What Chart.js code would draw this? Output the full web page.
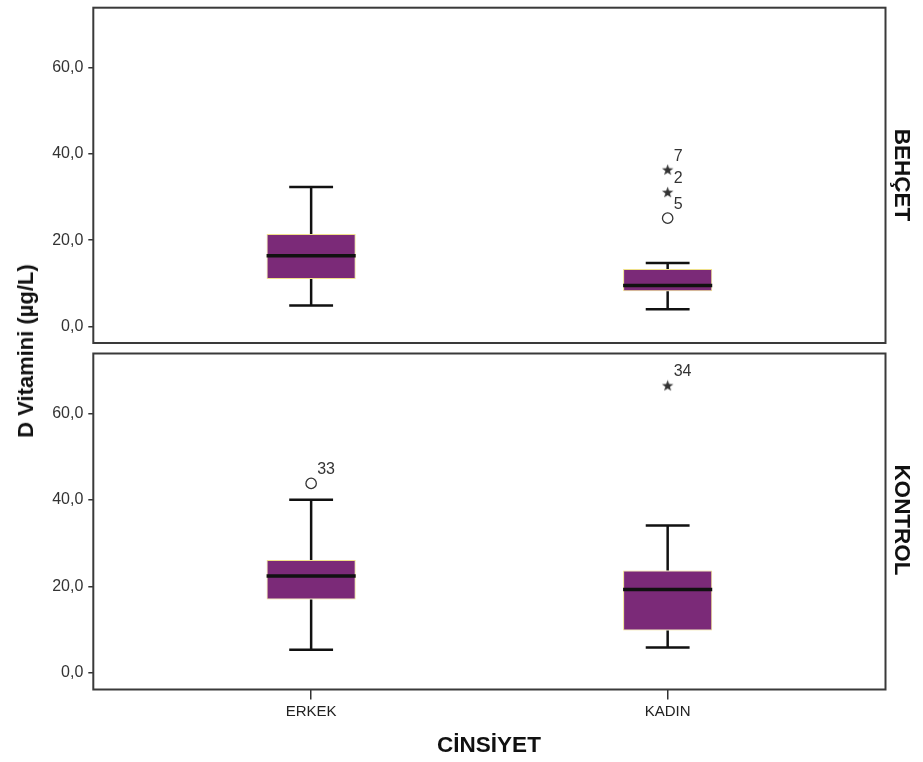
<!DOCTYPE html>
<html><head><meta charset="utf-8">
<script src="https://cdn.jsdelivr.net/npm/chart.js@4"></script>
<style>
html,body{margin:0;padding:0;background:#fff;}
#wrap{position:relative;width:923px;height:762px;overflow:hidden;font-family:"Liberation Sans",Arial,sans-serif;}
canvas{position:absolute;left:0;}
#c1{top:0}
#c2{top:346px}
.t{position:absolute;font-weight:bold;color:#111;white-space:nowrap;line-height:1;}
#ytitle{left:26px;top:350.5px;font-size:22px;transform:translate(-50%,-50%) rotate(-90deg);}
#xtitle{left:489px;top:745px;font-size:22.5px;transform:translate(-50%,-50%);}
.panel{writing-mode:vertical-rl;font-size:22.5px;transform:translate(-50%,-50%);}
#p1{left:902px;top:175px}
#p2{left:902px;top:520px}
</style></head>
<body><div id="wrap">
<canvas id="c1" width="923" height="352"></canvas>
<canvas id="c2" width="923" height="416"></canvas>
<div class="t" id="ytitle">D Vitamini (µg/L)</div>
<div class="t" id="xtitle">CİNSİYET</div>
<div class="t panel" id="p1">BEHÇET</div>
<div class="t panel" id="p2">KONTROL</div>
</div>
<script>
// ---- data ----
const categories = ['ERKEK', 'KADIN'];
const yTickValues = [0, 20, 40, 60];

// BEHÇET panel
const behcetLow = [4.9, 4.0];
const behcetQ1 = [11.0, 8.2];
const behcetMedian = [16.4, 9.5];
const behcetQ3 = [21.4, 13.3];
const behcetHigh = [32.3, 14.7];
const behcetOutlierCategory = [1, 1, 1];
const behcetOutlierValue = [36.2, 31.0, 25.1];
const behcetOutlierKind = ['extreme', 'extreme', 'outlier'];
const behcetOutlierCase = ['7', '2', '5'];

// KONTROL panel
const kontrolLow = [5.4, 5.9];
const kontrolQ1 = [17.0, 9.8];
const kontrolMedian = [22.4, 19.3];
const kontrolQ3 = [26.1, 23.7];
const kontrolHigh = [40.0, 34.1];
const kontrolOutlierCategory = [0, 1];
const kontrolOutlierValue = [43.8, 66.3];
const kontrolOutlierKind = ['outlier', 'extreme'];
const kontrolOutlierCase = ['33', '34'];

// ---- styles ----
const BOX_WIDTH = 0.25;
const CAP_HALF = 0.0615;
const PURPLE = '#7b2a78';
const BOX_EDGE = '#efe08a';
const INK = '#111111';
const AXIS = '#333333';
const FONT = '"Liberation Sans", Arial, sans-serif';

function makeStar() {
  const c = document.createElement('canvas');
  c.width = 13; c.height = 13;
  const g = c.getContext('2d');
  g.fillStyle = '#333';
  g.beginPath();
  for (let k = 0; k < 10; k++) {
    const r = k % 2 ? 2.4 : 6;
    const a = -Math.PI / 2 + k * Math.PI / 5;
    g.lineTo(6.5 + r * Math.cos(a), 6.5 + r * Math.sin(a));
  }
  g.closePath();
  g.fill();
  return c;
}
const starImg = makeStar();

function whiskerPoints(low, q1, q3, high) {
  const pts = [];
  categories.forEach((c, i) => {
    pts.push({x: i, y: high[i]}, {x: i, y: q3[i]}, {x: i, y: null},
             {x: i, y: q1[i]}, {x: i, y: low[i]}, {x: i, y: null},
             {x: i - CAP_HALF, y: high[i]}, {x: i + CAP_HALF, y: high[i]}, {x: i, y: null},
             {x: i - CAP_HALF, y: low[i]}, {x: i + CAP_HALF, y: low[i]}, {x: i, y: null});
  });
  return pts;
}
function medianPoints(med) {
  const pts = [];
  categories.forEach((c, i) => {
    pts.push({x: i - BOX_WIDTH / 2, y: med[i]}, {x: i + BOX_WIDTH / 2, y: med[i]}, {x: i, y: null});
  });
  return pts;
}

const framePlugin = {
  id: 'frame',
  afterDatasetsDraw(chart) {
    const {ctx, chartArea: a} = chart;
    ctx.save();
    ctx.strokeStyle = '#3a3a3a';
    ctx.lineWidth = 2;
    ctx.strokeRect(a.left, a.top, a.right - a.left, a.bottom - a.top);
    ctx.restore();
  }
};

function makePanel(id, s, showX, padTop, padBottom, xHeight) {
  const labelPlugin = {
    id: 'caseLabels',
    afterDatasetsDraw(chart) {
      const meta = chart.getDatasetMeta(3);
      const ctx = chart.ctx;
      ctx.save();
      ctx.fillStyle = '#333';
      ctx.font = '16px ' + FONT;
      ctx.textAlign = 'left';
      ctx.textBaseline = 'middle';
      meta.data.forEach((el, k) => {
        ctx.fillText(s.caseIds[k], el.x + 6, el.y - 14);
      });
      ctx.restore();
    }
  };
  return new Chart(document.getElementById(id), {
    type: 'bar',
    data: {
      datasets: [
        {
          type: 'bar',
          data: categories.map((c, i) => ({x: i, y: [s.q1[i], s.q3[i]]})),
          backgroundColor: PURPLE,
          borderColor: BOX_EDGE,
          borderWidth: 1,
          borderSkipped: false,
          barPercentage: BOX_WIDTH,
          categoryPercentage: 1,
          order: 3
        },
        {
          type: 'line',
          data: whiskerPoints(s.low, s.q1, s.q3, s.high),
          borderColor: INK,
          borderWidth: 2.5,
          pointRadius: 0,
          spanGaps: false,
          fill: false,
          order: 2
        },
        {
          type: 'line',
          data: medianPoints(s.med),
          borderColor: INK,
          borderWidth: 3.5,
          pointRadius: 0,
          spanGaps: false,
          fill: false,
          order: 1
        },
        {
          type: 'scatter',
          data: s.outCat.map((c, k) => ({x: c, y: s.outVal[k]})),
          pointStyle: ctx => s.outKind[ctx.dataIndex] === 'extreme' ? starImg : 'circle',
          pointRadius: 5.2,
          borderColor: '#333',
          borderWidth: 1.3,
          backgroundColor: 'rgba(255,255,255,0)',
          order: 0
        }
      ]
    },
    options: {
      responsive: false,
      animation: false,
      layout: {padding: {left: 0, right: 923 - 885.5, top: padTop, bottom: padBottom}},
      plugins: {legend: {display: false}, tooltip: {enabled: false}},
      scales: {
        x: {
          type: 'linear',
          display: showX,
          min: -0.611,
          max: 1.611,
          offset: false,
          grid: {offset: false, drawOnChartArea: false, drawTicks: true, tickLength: 10, color: AXIS, lineWidth: 1.5},
          border: {display: false},
          afterBuildTicks: sc => { sc.ticks = categories.map((c, i) => ({value: i})); },
          afterFit: sc => { if (showX) { sc.height = xHeight; } sc.paddingLeft = 0; sc.paddingRight = 0; },
          ticks: {
            callback: v => categories[v],
            font: {family: FONT, size: 15},
            color: '#222',
            padding: 3,
            maxRotation: 0
          }
        },
        y: {
          type: 'linear',
          min: -3.8,
          max: 73.8,
          grid: {drawOnChartArea: false, drawTicks: true, tickLength: 5, color: AXIS, lineWidth: 1.5},
          border: {display: false},
          afterBuildTicks: sc => { sc.ticks = yTickValues.map(v => ({value: v})); },
          afterFit: sc => { sc.width = 93.3; sc.paddingTop = 0; sc.paddingBottom = 0; },
          ticks: {
            callback: v => v.toFixed(1).replace('.', ','),
            font: {family: FONT, size: 16},
            color: '#333',
            padding: 5
          }
        }
      }
    },
    plugins: [framePlugin, labelPlugin]
  });
}

makePanel('c1', {
  low: behcetLow, q1: behcetQ1, med: behcetMedian, q3: behcetQ3, high: behcetHigh,
  outCat: behcetOutlierCategory, outVal: behcetOutlierValue, outKind: behcetOutlierKind, caseIds: behcetOutlierCase
}, false, 7.7, 9, 0);

makePanel('c2', {
  low: kontrolLow, q1: kontrolQ1, med: kontrolMedian, q3: kontrolQ3, high: kontrolHigh,
  outCat: kontrolOutlierCategory, outVal: kontrolOutlierValue, outKind: kontrolOutlierKind, caseIds: kontrolOutlierCase
}, true, 7.5, 0, 72.5);
</script>
</body></html>
